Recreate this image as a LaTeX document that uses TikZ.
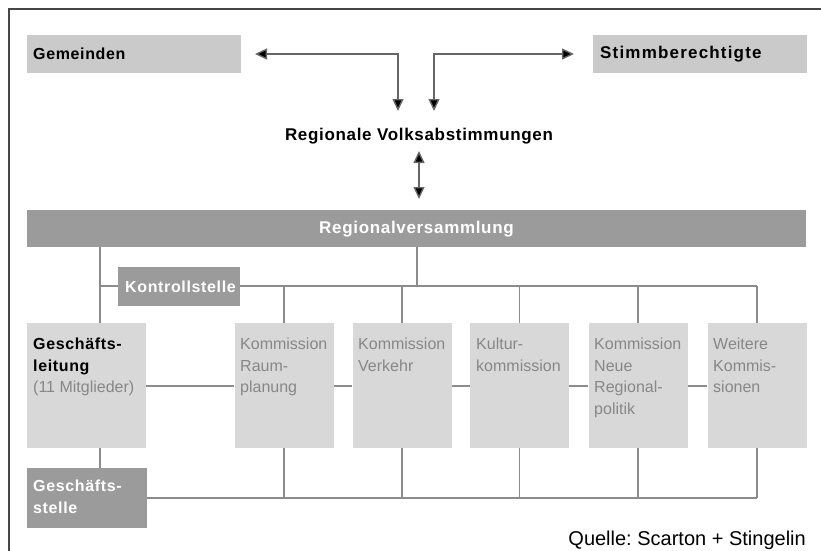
\documentclass[tikz,border=0pt]{standalone}
\usepackage{fontspec}
\setmainfont{Liberation Sans}
\newfontfamily\bfwide[LetterSpace=4]{Liberation Sans Bold}
\newfontfamily\bfwider[LetterSpace=7]{Liberation Sans Bold}
\usetikzlibrary{arrows.meta,positioning}
\definecolor{lightbox}{RGB}{216,216,216}
\definecolor{topbox}{RGB}{202,202,202}
\definecolor{darkbox}{RGB}{155,155,155}
\definecolor{linegray}{RGB}{140,140,140}
\definecolor{txtgray}{RGB}{135,135,135}
\definecolor{framegray}{RGB}{70,70,70}
\tikzset{
  x=1pt, y=-1pt,
  lbox/.style={fill=lightbox, draw=none, inner sep=0pt, minimum width=99pt, minimum height=125pt},
  tbox/.style={fill=topbox, draw=none, inner sep=0pt, minimum width=214pt, minimum height=38pt},
  dbox/.style={fill=darkbox, draw=none, inner sep=0pt},
  btxt/.style={inner sep=0pt, font=\bfwide\fontsize{16}{21.5}\selectfont, align=left},
  ctxt/.style={inner sep=0pt, font=\fontsize{16}{21.5}\selectfont, text=txtgray, align=left, anchor=north west},
  conn/.style={draw=linegray, line width=1.4pt},
  arr/.style={draw=black!60, line width=1.4pt, {Triangle[length=12pt,width=11pt,fill=black]}-{Triangle[length=12pt,width=11pt,fill=black]}},
}
\begin{document}
\frenchspacing
\begin{tikzpicture}
\useasboundingbox (0,0) rectangle (821,550);
% frame
\draw[framegray, line width=1.5pt] (9,551) -- (9,9) -- (822,9);

% top boxes
\node[tbox] (gem) at (134,54) {};
\node[btxt, anchor=west] (gemt) at (33,54) {Gemeinden};
\node[tbox] (stb) at (700,54) {};
\node[btxt, anchor=west, font=\bfwider\fontsize{17}{20}\selectfont] (stbt) at (600,54) {Stimmberechtigte};

\node[btxt, font=\bfwide\fontsize{17}{20}\selectfont] (rva) at (419,136) {Regionale Volksabstimmungen};

\coordinate (aL) at (255,54);
\coordinate (aLd) at (398,111);
\coordinate (aR) at (574,54);
\coordinate (aRd) at (434,111);
\coordinate (d1) at (419,151);
\coordinate (d2) at (419,199);
\draw[arr] (aL) -| (aLd);
\draw[arr] (aRd) |- (aR);
\draw[arr] (d1) -- (d2);

% bar
\node[dbox, minimum width=779pt, minimum height=37pt] (rv) at (416.5,228.5) {};
\node[btxt, text=white, font=\bfwide\fontsize{17}{20}\selectfont] (rvt) at (416.5,229) {Regionalversammlung};

% boxes
\node[lbox, minimum width=119pt] (gl) at (86.5,385.5) {};
\node[lbox] (k1) at (284,385.5) {};
\node[lbox] (k2) at (402,385.5) {};
\node[lbox] (k3) at (519.5,385.5) {};
\node[lbox] (k4) at (638,385.5) {};
\node[lbox] (k5) at (757,385.5) {};

\coordinate (glt) at (100,323);
\coordinate (glb) at (100,448);
\coordinate (h1) at (100,286);
\coordinate (h2) at (757,286);
\coordinate (h3) at (417,286);

% connectors
\draw[conn] (rv.south -| glt) -- (glt);
\draw[conn] (h1) -- (h2);
\draw[conn] (rv.south -| h3) -- (h3);
\foreach \k in {k1,k2,k3,k4,k5}{
  \draw[conn] (\k.north |- h1) -- (\k.north);
  \draw[conn] (\k.south) -- ++(0,50);
}
\draw[conn] (gl.east |- 0,386) -- (k1.west |- 0,386);
\draw[conn] (k1.east |- 0,386) -- (k2.west |- 0,386);
\draw[conn] (k2.east |- 0,386) -- (k3.west |- 0,386);
\draw[conn] (k3.east |- 0,386) -- (k4.west |- 0,386);
\draw[conn] (k4.east |- 0,386) -- (k5.west |- 0,386);

% Kontrollstelle
\node[dbox, minimum width=122pt, minimum height=39pt] (ks) at (179,286.5) {};
\node[btxt, text=white, anchor=west] (kst) at (125,287) {Kontrollstelle};

% Geschaeftsstelle
\node[dbox, minimum width=120pt, minimum height=60pt] (gs) at (87,498) {};
\draw[conn] (glb) -- (glb |- gs.north);
\draw[conn] (gs.east) -- (k5.south |- gs.east);
\node[btxt, text=white, anchor=north west] (gst) at (33,480) {Geschäfts-\\stelle};

% box texts
\node[anchor=north west, inner sep=0pt, align=left, font=\fontsize{16}{21.5}\selectfont] (glt1) at (33,338)
  {{\bfwide Geschäfts-}\\{\bfwide leitung}\\\textcolor{txtgray}{(11 Mitglieder)}};
\node[ctxt] (k1t) at (240,338) {Kommission\\Raum-\\planung};
\node[ctxt] (k2t) at (358,338) {Kommission\\Verkehr};
\node[ctxt] (k3t) at (476,338) {Kultur-\\kommission};
\node[ctxt] (k4t) at (594,338) {Kommission\\Neue\\Regional-\\politik};
\node[ctxt] (k5t) at (713,338) {Weitere\\Kommis-\\sionen};

% source
\node[anchor=base east, inner sep=0pt, font=\fontsize{20}{24}\selectfont] (src) at (806,545) {Quelle: Scarton + Stingelin};
\end{tikzpicture}
\end{document}
